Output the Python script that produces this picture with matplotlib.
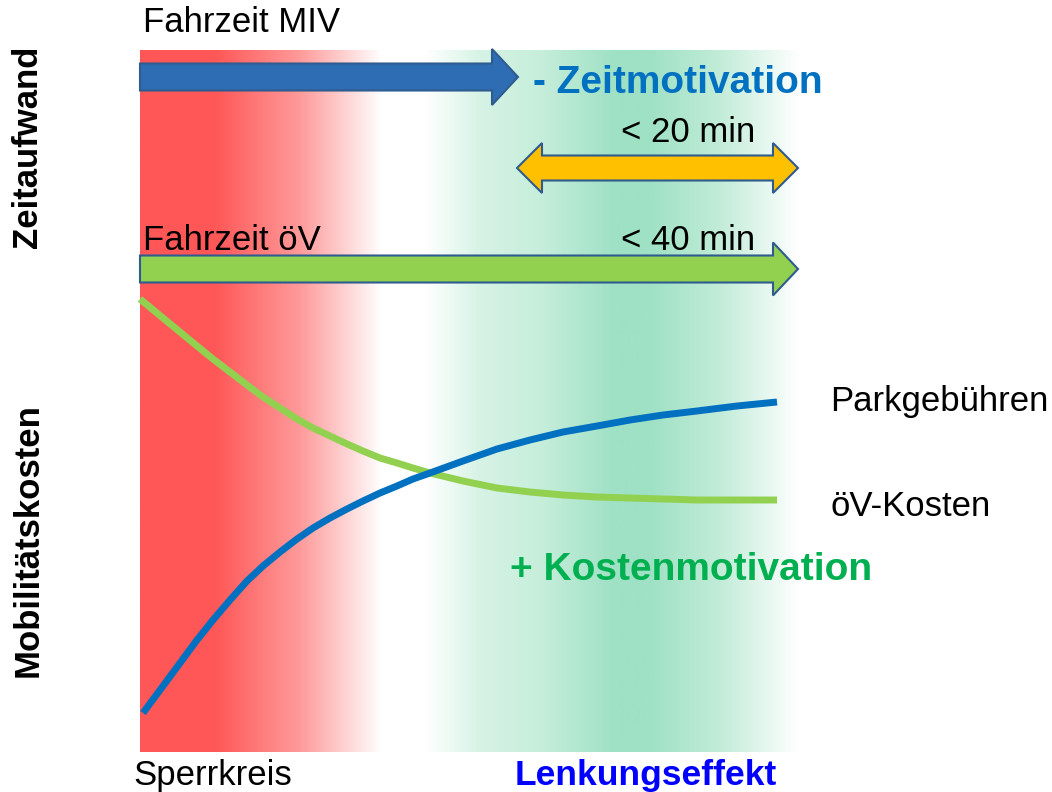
import matplotlib.pyplot as plt
import numpy as np
from matplotlib.patches import Polygon
from matplotlib.colors import to_rgb

plt.rcParams['font.family'] = ['Liberation Sans', 'DejaVu Sans']

# curve data (x = Abstand, y = Kosten), in picture units
park_x = [143, 163, 180, 197, 213, 230, 247, 263, 280, 297, 313, 330, 347, 363,
          380, 397, 413, 430, 463, 497, 530, 563, 597, 630, 663, 697, 737, 777]
park_y = [713, 686, 663, 640, 620, 600, 581, 566, 552, 539, 528, 518, 509, 501,
          493, 486, 479, 473, 461, 449, 440, 432, 426, 420, 415, 411, 406, 402]
oev_x = [140, 163, 180, 197, 213, 230, 247, 263, 280, 297, 313, 330, 347, 363,
         380, 397, 413, 430, 463, 497, 530, 563, 597, 630, 663, 697, 737, 777]
oev_y = [299, 318, 332, 346, 359, 372, 385, 397, 408, 419, 428, 436, 444, 451,
         458, 463, 468, 473, 481, 488, 492, 495, 497, 498, 499, 500, 500, 500]

# arrows: (start, end, y centre)
arrow_miv = (140, 518, 77)
arrow_20 = (517, 798, 168)
arrow_40 = (140, 798, 269)

fig = plt.figure(figsize=(10.52, 7.92), dpi=100)
ax = fig.add_axes([0, 0, 1, 1])


def gradient(x0, x1, stops):
    xs = np.linspace(x0, x1, 400)
    pos = [s[0] for s in stops]
    cols = np.array([to_rgb(s[1]) for s in stops])
    img = np.zeros((1, len(xs), 3))
    for k in range(3):
        img[0, :, k] = np.interp(xs, pos, cols[:, k])
    ax.imshow(img, extent=[x0, x1, 752, 50], aspect='auto', zorder=0)


gradient(140, 382, [(140, '#ff5757'), (215, '#ff5757'), (300, '#fe9a9a'),
                    (382, '#ffffff')])
gradient(425, 800, [(425, '#ffffff'), (480, '#d6f3e5'), (540, '#c6eedb'),
                    (615, '#9fe1c5'), (650, '#9fe1c5'), (720, '#c2ecd8'),
                    (800, '#ffffff')])
ax.set_xlim(0, 1052)
ax.set_ylim(792, 0)
ax.axis('off')


def arrow(x0, x1, y, body, head, hlen, color, double=False):
    b, h = body / 2, head / 2
    if double:
        pts = [(x0 + hlen, y - b), (x1 - hlen, y - b), (x1 - hlen, y - h), (x1, y),
               (x1 - hlen, y + h), (x1 - hlen, y + b), (x0 + hlen, y + b),
               (x0 + hlen, y + h), (x0, y), (x0 + hlen, y - h)]
    else:
        pts = [(x0, y - b), (x1 - hlen, y - b), (x1 - hlen, y - h), (x1, y),
               (x1 - hlen, y + h), (x1 - hlen, y + b), (x0, y + b)]
    ax.add_patch(Polygon(pts, closed=True, facecolor=color,
                         edgecolor='#2f5c8f', linewidth=1.5, zorder=3))


arrow(arrow_miv[0], arrow_miv[1], arrow_miv[2], 27, 56, 26, '#2e6db4')
arrow(arrow_20[0], arrow_20[1], arrow_20[2], 25, 50, 25, '#ffc000', double=True)
arrow(arrow_40[0], arrow_40[1], arrow_40[2], 27, 53, 25, '#92d050')

ax.plot(oev_x, oev_y, color='#92d050', lw=5, solid_capstyle='butt',
        solid_joinstyle='round', zorder=4)
ax.plot(park_x, park_y, color='#0070c0', lw=5, solid_capstyle='butt',
        solid_joinstyle='round', zorder=4)

fs = 25
ax.text(143, 22, 'Fahrzeit MIV', fontsize=fs, va='center', ha='left')
ax.text(533, 83, '- Zeitmotivation', fontsize=28, fontweight='bold',
        color='#0070c0', va='center', ha='left')
ax.text(755, 133, '< 20 min', fontsize=fs, va='center', ha='right')
ax.text(143, 240, 'Fahrzeit öV', fontsize=fs, va='center', ha='left')
ax.text(755, 241, '< 40 min', fontsize=fs, va='center', ha='right')
ax.text(830, 402, 'Parkgebühren', fontsize=fs, va='center', ha='left')
ax.text(830, 507, 'öV-Kosten', fontsize=fs, va='center', ha='left')
ax.text(510, 570, '+ Kostenmotivation', fontsize=28, fontweight='bold',
        color='#00b050', va='center', ha='left')
ax.text(133, 775, 'Sperrkreis', fontsize=fs, va='center', ha='left')
ax.text(515, 775, 'Lenkungseffekt', fontsize=25.5, fontweight='bold',
        color='#0000ff', va='center', ha='left')
ax.text(28, 147, 'Zeitaufwand', fontsize=fs, fontweight='bold',
        rotation=90, va='center', ha='center')
ax.text(28, 540, 'Mobilitätskosten', fontsize=fs, fontweight='bold',
        rotation=90, va='center', ha='center')

fig.savefig('out.png', dpi=100)
